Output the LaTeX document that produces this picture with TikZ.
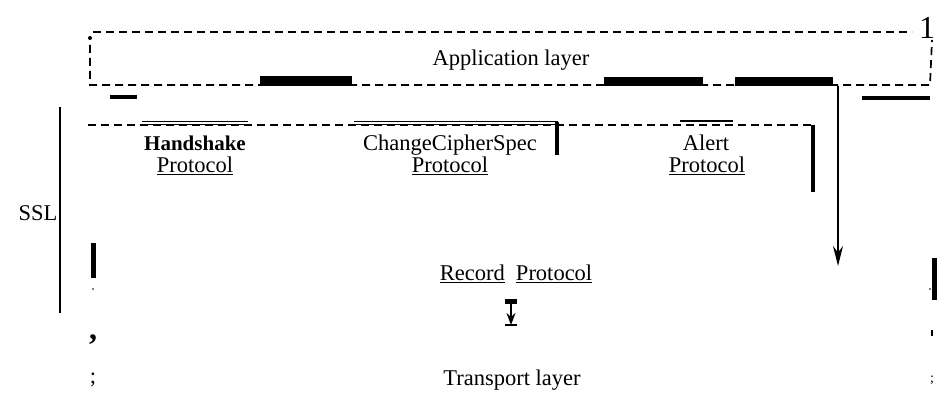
\documentclass[tikz,border=0pt]{standalone}
\usepackage{fontspec}
\setmainfont{Liberation Serif}
\usetikzlibrary{arrows.meta}
\begin{document}
\begin{tikzpicture}[x=1pt,y=-1pt,
  txt/.style={inner sep=0pt,anchor=base,font=\fontsize{22.5}{25}\selectfont},
  dsh/.style={line width=1.7pt,dash pattern=on 8pt off 5pt},
  bar/.style={fill=black,draw=none},
  thin/.style={line width=1.2pt},
  arr/.style={line width=1.4pt,-{Stealth[length=20pt,width=10pt]}}]
\useasboundingbox (0,0) rectangle (940,395);
% application layer box
\draw[dsh] (93,32) -- (912,32);
\draw[dsh] (90,45) -- (90,85) -- (930,85) -- (932,40);
\fill (90,38) circle (2pt);
\node[txt,font=\fontsize{32}{34}\selectfont] (one) at (927,39) {1};
\node[txt] (app) at (511,66) {Application layer};
% black bars on box
\fill[bar] (110,95) rectangle (137,99);
\fill[bar] (260,76) rectangle (352,86);
\fill[bar] (604,77) rectangle (703,86);
\fill[bar] (735,77) rectangle (833,86);
\fill[bar] (862,96) rectangle (930,100);
% arrow from app layer down
\coordinate (a1) at (838,86);
\coordinate (a2) at (838,266);
\draw[arr] (a1) -- (a2);
% SSL bracket
\node[txt] (ssl) at (38,221) {SSL};
\draw[thin] (60,107) -- (60,313);
% protocol dashed line
\draw[line width=1.1pt,dash pattern=on 8pt off 5pt] (88,125) -- (815,125);
\draw[line width=1pt] (142,122) -- (248,122) (142,125) -- (248,125);
\draw[line width=1pt] (354,122) -- (558,122) (354,125) -- (558,125);
\draw[line width=1.4pt] (680,121) -- (733,121);
\fill[bar] (555,122) rectangle (559,155);
\fill[bar] (811,125) rectangle (815,192);
% protocol labels
\node[txt,font=\fontsize{21}{24}\selectfont\bfseries] (hs) at (195,151) {Handshake};
\node[txt] (hsp) at (195,173) {\underline{Protocol}};
\node[txt] (ccs) at (450,151) {ChangeCipherSpec};
\node[txt] (ccsp) at (450,173) {\underline{Protocol}};
\node[txt] (al) at (706,151) {Alert};
\node[txt] (alp) at (707,173) {\underline{Protocol}};
% record
\fill[bar] (91,243) rectangle (96,278);
\fill[bar] (932,258) rectangle (937,300);
\node[txt] (rec) at (516,281) {\underline{Record}\enspace\underline{Protocol}};
\fill[bar] (505,299) rectangle (517,304);
\coordinate (r1) at (511,304);
\coordinate (r2) at (511,325);
\draw[arr,-{Stealth[length=12pt,width=9pt]}] (r1) -- (r2);
\draw[thin] (505,325) -- (517,325);
\node[txt] (trans) at (512,385) {Transport layer};
% scan marks
\node[txt,font=\fontsize{32}{34}\selectfont\bfseries] (comma) at (93,340) {,};
\node[txt] (semi) at (93,383) {;};
\fill (93,289) circle (0.8pt);
\fill (930,289) circle (0.8pt);
\draw[thin] (932,330) -- (932,336);
\node[txt,font=\fontsize{14}{16}\selectfont] (semi2) at (932,382) {;};
\end{tikzpicture}
\end{document}
